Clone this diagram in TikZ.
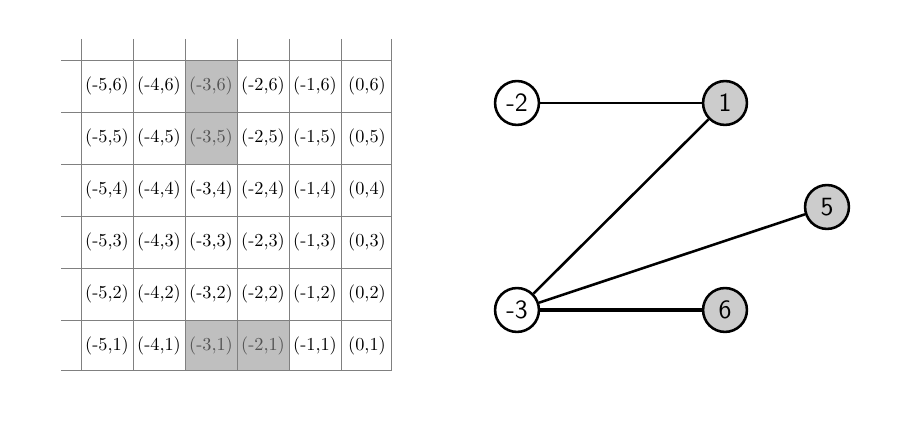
\documentclass[tikz,border=0pt]{standalone}
\begin{document}
\begin{tikzpicture}[x={(0.0192308cm,0)},y={(0,-0.0192308cm)},
  gridline/.style={gray, line width=0.45pt},
  shade/.style={fill=gray!50},
  cell/.style={font=\fontsize{10}{12}\selectfont, inner sep=0pt},
  dim/.style={text=black!68},
  lab-36/.style={dim}, lab-35/.style={dim}, lab-31/.style={dim}, lab-21/.style={dim},
  vert/.style={circle, draw, line width=1.4pt, minimum size=24pt, inner sep=0pt, font=\sffamily\Large},
  hit/.style={vert, fill=gray!40},
  edge/.style={line width=1.4pt},
  heavy/.style={line width=2.3pt}]
\useasboundingbox (0,0) rectangle (904,424);
% shaded cells
\fill[shade] (185.5,60.3) rectangle (237.5,164);
\fill[shade] (185.5,320) rectangle (289.5,370);
% grid
\foreach \yy in {60.3,112,164,216,268,320,370}
  \draw[gridline] (61,\yy) -- (391.5,\yy);
\foreach \xx in {81.5,133.5,185.5,237.5,289.5,341.5,391.5}
  \draw[gridline] (\xx,39) -- (\xx,370);
% labels
\foreach \i in {-5,...,0}
  \foreach \j in {1,...,6}
    \node[cell, lab\i\j/.try] (c\i\j) at ({367+52*\i},{398-52*\j}) {(\i,\j)};
% graph
\node[vert] (m2) at (517,103) {-2};
\node[hit] (p1) at (725,103) {1};
\node[hit] (p5) at (827,207) {5};
\node[vert] (m3) at (517,310) {-3};
\node[hit] (p6) at (725,310) {6};
\draw[edge] (m2) -- (p1);
\draw[edge] (m3) -- (p1);
\draw[edge] (m3) -- (p5);
\draw[heavy] (m3) -- (p6);
\end{tikzpicture}
\end{document}
